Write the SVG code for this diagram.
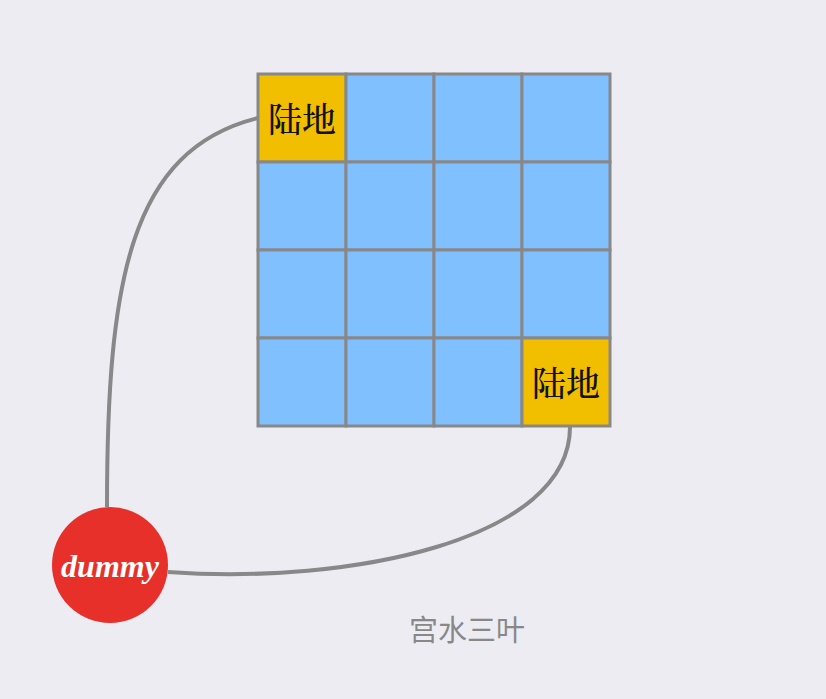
<svg xmlns="http://www.w3.org/2000/svg" width="826" height="699" viewBox="0 0 826 699">
<style>
.cell{stroke:#888;stroke-width:3}
.water{fill:#80C0FF}
.land{fill:#F2BE00}
.lbl{font-family:"Liberation Serif","Noto Serif CJK SC","Noto Sans CJK SC",serif;font-size:34px;font-weight:500;fill:#111;text-anchor:middle;dominant-baseline:central}
.edge{fill:none;stroke:#888;stroke-width:4}
</style>
<rect width="826" height="699" fill="#EDECF2"/>
<g id="connectors">
<path class="edge" d="M258,118 C130,150 107,280 107,507"/>
<path class="edge" d="M168,572 C350,585 570,540 570,427"/>
</g>
<g id="grid">
<rect class="cell land" x="258" y="74" width="88" height="88"/>
<rect class="cell water" x="346" y="74" width="88" height="88"/>
<rect class="cell water" x="434" y="74" width="88" height="88"/>
<rect class="cell water" x="522" y="74" width="88" height="88"/>
<rect class="cell water" x="258" y="162" width="88" height="88"/>
<rect class="cell water" x="346" y="162" width="88" height="88"/>
<rect class="cell water" x="434" y="162" width="88" height="88"/>
<rect class="cell water" x="522" y="162" width="88" height="88"/>
<rect class="cell water" x="258" y="250" width="88" height="88"/>
<rect class="cell water" x="346" y="250" width="88" height="88"/>
<rect class="cell water" x="434" y="250" width="88" height="88"/>
<rect class="cell water" x="522" y="250" width="88" height="88"/>
<rect class="cell water" x="258" y="338" width="88" height="88"/>
<rect class="cell water" x="346" y="338" width="88" height="88"/>
<rect class="cell water" x="434" y="338" width="88" height="88"/>
<rect class="cell land" x="522" y="338" width="88" height="88"/>
</g>
<g id="land1"><text class="lbl" x="302" y="120">陆地</text></g>
<g id="land2"><text class="lbl" x="566" y="384">陆地</text></g>
<g id="dummy">
<circle cx="110" cy="565" r="58" fill="#E8302A"/>
<text x="110" y="566" font-family="Liberation Serif,serif" font-size="32" font-weight="bold" font-style="italic" fill="#fff" text-anchor="middle" dominant-baseline="central">dummy</text>
</g>
<g id="caption"><text x="467" y="631" font-family="Liberation Serif,'Noto Sans CJK SC',serif" font-size="29" fill="#888" text-anchor="middle" dominant-baseline="central">宫水三叶</text></g>
</svg>
